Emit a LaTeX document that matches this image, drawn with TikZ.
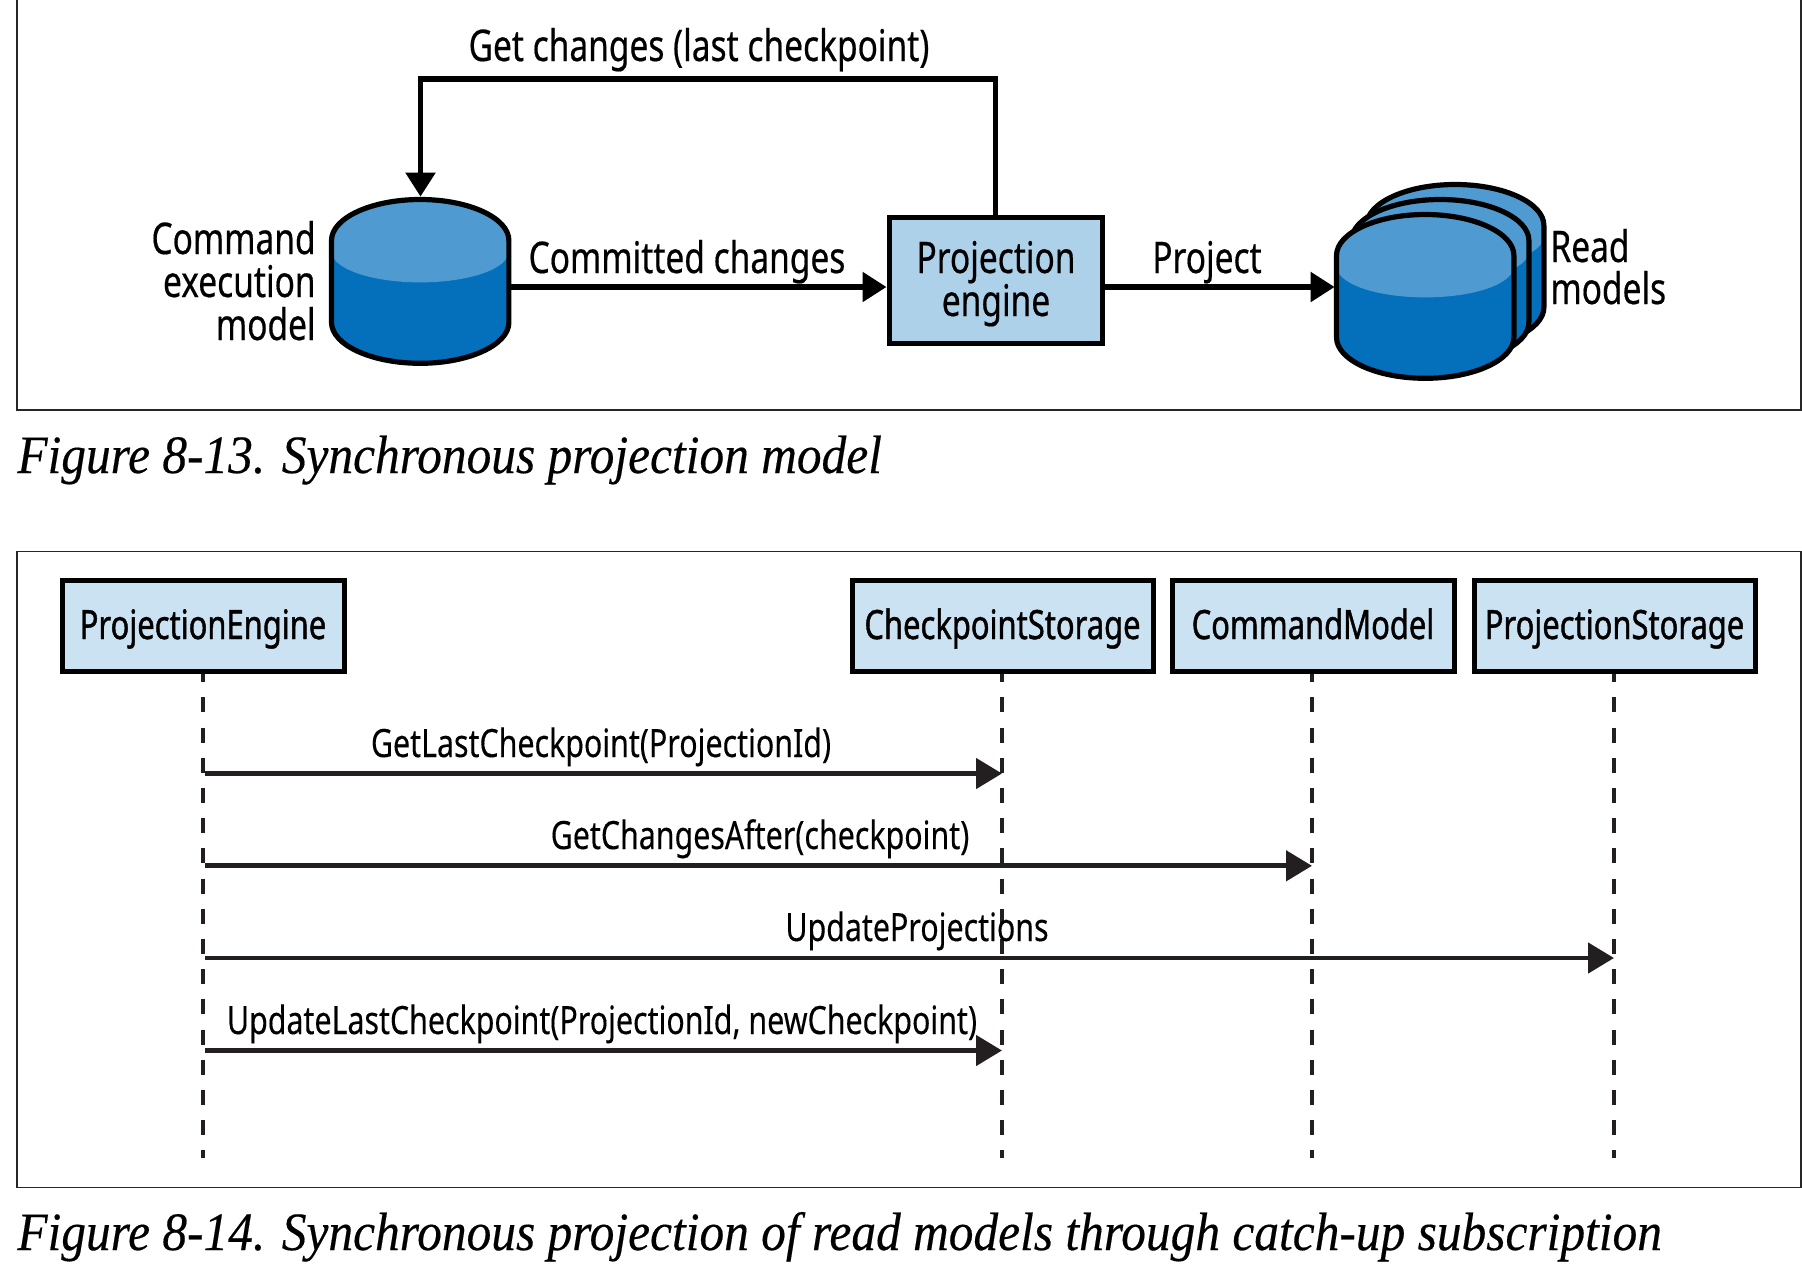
\documentclass[tikz,border=0pt]{standalone}
\usepackage{fontspec}
\usetikzlibrary{arrows.meta}
\newfontfamily\lab[FakeStretch=0.768,FakeBold=0.4]{Noto Sans}
\newfontfamily\labs[FakeStretch=0.778,FakeBold=0.2]{Noto Sans}
\newfontfamily\labm[FakeStretch=0.765,FakeBold=1.0]{Noto Sans}
\newfontfamily\capfont[FakeStretch=0.915,FakeBold=0.3]{Liberation Serif Italic}
\definecolor{dbl}{HTML}{4F9BD1}
\definecolor{dbd}{HTML}{0470BC}
\definecolor{boxa}{HTML}{AED1EA}
\definecolor{boxb}{HTML}{CBE2F2}
\definecolor{ink}{HTML}{231F20}
\newcommand{\dbdrum}[2]{%
 \begin{scope}[shift={(#1+1.5,#2+2.5)},xscale=0.98,yscale=0.975]
 \def\dbout{(0,42) .. controls (0,19) and (40.5,0) .. (90.5,0) .. controls (140.5,0) and (181,19) .. (181,42) -- (181,126) .. controls (181,149) and (140.5,168) .. (90.5,168) .. controls (40.5,168) and (0,149) .. (0,126) -- cycle}
 \fill[dbd] \dbout;
 \begin{scope}
 \clip \dbout;
 \fill[dbl] (0,0) -- (181,0) -- (181,53) .. controls (181,71) and (140.5,85) .. (90.5,85) .. controls (40.5,85) and (0,71) .. (0,53) -- cycle;
 \end{scope}
 \draw[line width=2.6pt,black] \dbout;
 \end{scope}}
\tikzset{
 x=0.5pt,y=-0.5pt,
 frame/.style={line width=0.7pt,draw=black!85},
 toplab/.style={inner sep=0,anchor=base,font=\lab\fontsize{21.8}{24}\selectfont},
 seqlab/.style={inner sep=0,anchor=base,font=\labs\fontsize{19.5}{22}\selectfont},
 boxlab/.style={inner sep=0,anchor=base,font=\labm\fontsize{20.2}{22}\selectfont},
 captext/.style={inner sep=0,anchor=base west,font=\capfont\fontsize{27}{30}\selectfont},
 pbox/.style={draw=black,line width=2.5pt,fill=boxa,inner sep=0,minimum width=106.5pt,minimum height=63pt},
 seqbox/.style={draw=black,line width=2.5pt,fill=boxb,inner sep=0,minimum height=45.5pt},
 flow/.style={line width=2.7pt,black,-{Triangle[length=12pt,width=14.5pt]}},
 msg/.style={line width=2.4pt,ink,-{Triangle[length=13pt,width=15pt]}},
 life/.style={line width=1.8pt,ink,dash pattern=on 7.5pt off 7.6pt,dash phase=3.2pt},
 ghost/.style={inner sep=0,minimum width=90.5pt,minimum height=84pt},
}
\begin{document}
\begin{tikzpicture}
\useasboundingbox (0,0) rectangle (1802,1280);
\fill[white] (0,0) rectangle (1802,1280);
% frames
\draw[frame] (17,0) -- (17,410) -- (1801,410) -- (1801,0);
\draw[frame] (17,551.5) rectangle (1801,1187.5);
% figure 8-13
\dbdrum{1365}{182}
\dbdrum{1350}{197}
\dbdrum{1335}{212}
\dbdrum{330}{197}
\node[ghost] (cmd) at (420.5,281) {};
\node[ghost] (rm) at (1425.5,296) {};
\node[pbox] (pe) at (995.5,280.5) {};
\node[toplab] (pe1) at (996,273) {Projection};
\node[toplab] (pe2) at (996,316) {engine};
\coordinate (row) at (700,287);
\coordinate (top) at (700,79);
\draw[flow] (pe.north) |- (top) -| (cmd.north);
\draw[flow] (cmd.east |- row) -- (pe.west |- row);
\draw[flow] (pe.east |- row) -- (rm.west |- row);
\node[toplab] (l1) at (699,61) {Get changes (last checkpoint)};
\node[toplab] (l2) at (687,273) {Committed changes};
\node[toplab] (l3) at (1207,273) {Project};
\node[toplab,anchor=base east] (c1) at (316,254) {Command};
\node[toplab,anchor=base east] (c2) at (316,297) {execution};
\node[toplab,anchor=base east] (c3) at (316,340) {model};
\node[toplab,anchor=base west] (r1) at (1550,262) {Read};
\node[toplab,anchor=base west] (r2) at (1550,304) {models};
\node[captext] (cap1) at (17,473) {Figure 8-13. Synchronous projection model};
% figure 8-14
\coordinate (b0) at (203,1158);
\coordinate (b1) at (1002,1158);
\coordinate (b2) at (1312,1158);
\coordinate (b3) at (1614,1158);
\node[seqbox,minimum width=141pt] (s0) at (203,625.5) {};
\node[seqbox,minimum width=150.5pt] (s1) at (1002.5,625.5) {};
\node[seqbox,minimum width=141pt] (s2) at (1313,625.5) {};
\node[seqbox,minimum width=140.5pt] (s3) at (1614.5,625.5) {};
\node[boxlab] (t0) at (203,639) {ProjectionEngine};
\node[boxlab] (t1) at (1002.5,639) {CheckpointStorage};
\node[boxlab] (t2) at (1313,639) {CommandModel};
\node[boxlab] (t3) at (1614.5,639) {ProjectionStorage};
\draw[life] (s0.south -| b0) -- (b0);
\draw[life] (s1.south -| b1) -- (b1);
\draw[life] (s2.south -| b2) -- (b2);
\draw[life] (s3.south -| b3) -- (b3);
\coordinate (m1) at (205,773.5);
\coordinate (m2) at (205,865.8);
\coordinate (m3) at (205,958);
\coordinate (m4) at (205,1050.5);
\draw[msg] (m1) -- (m1 -| b1);
\draw[msg] (m2) -- (m2 -| b2);
\draw[msg] (m3) -- (m3 -| b3);
\draw[msg] (m4) -- (m4 -| b1);
\node[seqlab] (g1) at (601,757) {GetLastCheckpoint(ProjectionId)};
\node[seqlab] (g2) at (760,849) {GetChangesAfter(checkpoint)};
\node[seqlab] (g3) at (917,941) {UpdateProjections};
\node[seqlab] (g4) at (602,1034) {UpdateLastCheckpoint(ProjectionId, newCheckpoint)};
\node[captext] (cap2) at (17,1250) {Figure 8-14. Synchronous projection of read models through catch-up subscription};
\end{tikzpicture}
\end{document}
